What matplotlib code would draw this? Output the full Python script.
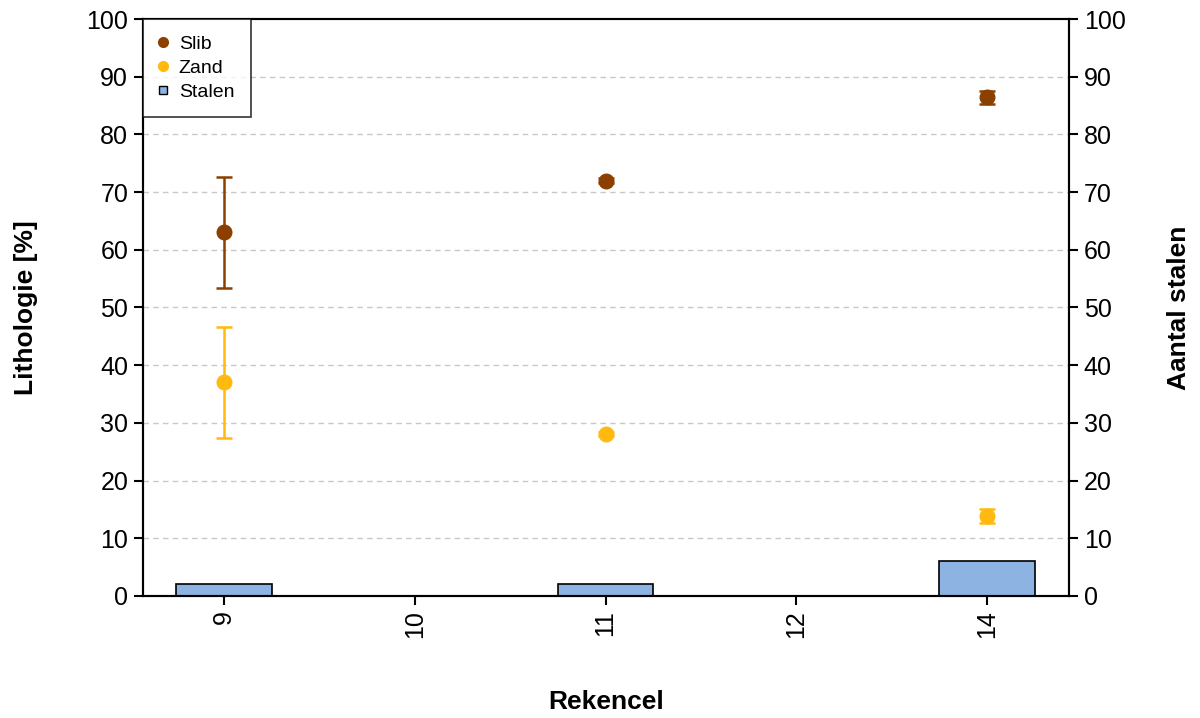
import numpy as np
import matplotlib
matplotlib.use('Agg')
import matplotlib.pyplot as plt
from matplotlib.lines import Line2D

plt.rcParams['font.family'] = ['Liberation Sans', 'DejaVu Sans']
plt.rcParams['font.size'] = 18

# Rekencel categories and lithology summary
rekencel = ['9', '10', '11', '12', '14']
slib_mean = [63.0, np.nan, 72.0, np.nan, 86.4]
slib_err = [9.7, np.nan, 0.4, np.nan, 1.2]
zand_mean = [37.0, np.nan, 28.1, np.nan, 13.9]
zand_err = [9.7, np.nan, 0.4, np.nan, 1.2]
stalen = [2, 0, 2, 0, 6]

col_slib = '#8B4000'
col_zand = '#FFB90F'
col_bar = '#8DB3E2'

fig = plt.figure(figsize=(12, 7.18), dpi=100)
ax = fig.add_axes([0.119, 0.170, 0.772, 0.8035])
ax2 = ax.twinx()

x = np.arange(len(rekencel))

# bars on the secondary axis (sample counts)
ax2.bar(x, stalen, width=0.5, color=col_bar, edgecolor='black', linewidth=1.2, zorder=2)
ax2.set_ylim(0, 100)
ax2.set_yticks(np.arange(0, 101, 10))
ax2.set_ylabel('Aantal stalen', fontweight='bold', fontsize=19, labelpad=30)

ax.set_zorder(ax2.get_zorder() + 1)
ax.patch.set_visible(False)

ax.errorbar(x, slib_mean, yerr=slib_err, fmt='o', color=col_slib,
            markersize=10.5, capsize=5.5, elinewidth=1.8, capthick=1.8, zorder=4)
ax.errorbar(x, zand_mean, yerr=zand_err, fmt='o', color=col_zand,
            markersize=10.5, capsize=5.5, elinewidth=1.8, capthick=1.8, zorder=4)

ax.set_xlim(-0.425, 4.43)
ax.set_ylim(0, 100)
ax.set_yticks(np.arange(0, 101, 10))
ax.set_xticks(x)
ax.set_xticklabels(rekencel, rotation=90)
ax.set_xlabel('Rekencel', fontweight='bold', fontsize=19, labelpad=37)
ax.set_ylabel('Lithologie [%]', fontweight='bold', fontsize=19, labelpad=35)

for yv in range(10, 100, 10):
    ax2.axhline(yv, color='#c8c8c8', linestyle=(0, (4, 3)), linewidth=1, zorder=0)

for a in (ax, ax2):
    for s in a.spines.values():
        s.set_linewidth(1.5)
    a.tick_params(width=1.5, length=6.5, pad=4, labelsize=18)

handles = [
    Line2D([], [], marker='o', linestyle='none', color=col_slib, markersize=7),
    Line2D([], [], marker='o', linestyle='none', color=col_zand, markersize=7),
    Line2D([], [], marker='s', linestyle='none', markerfacecolor=col_bar,
           markeredgecolor='black', markersize=6),
]
leg = ax.legend(handles, ['Slib', 'Zand', 'Stalen'], loc='upper left',
                bbox_to_anchor=(0, 1), fontsize=14, frameon=True, fancybox=False,
                borderaxespad=0, handletextpad=0.6, handlelength=0.4,
                borderpad=0.85, labelspacing=0.32)
leg.get_frame().set_edgecolor('black')
leg.get_frame().set_linewidth(1.2)

fig.savefig('out.png', dpi=100)
